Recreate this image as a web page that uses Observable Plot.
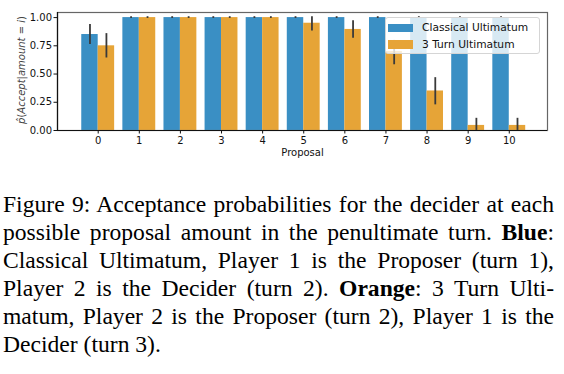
<!DOCTYPE html>
<html>
<head>
<meta charset="utf-8">
<script src="https://cdn.jsdelivr.net/npm/d3@7"></script>
<script src="https://cdn.jsdelivr.net/npm/@observablehq/plot@0.6"></script>
<style>
  body { margin: 0; background: #fff; width: 564px; height: 374px; position: relative; overflow: hidden; }
  #chart { position: absolute; left: 0; top: 0; }
  #ylabel { position: absolute; left: 22px; top: 70px; transform: translate(-50%, -50%) rotate(-90deg);
    font-family: "DejaVu Sans", sans-serif; font-size: 10px; line-height: 12px; color: #444; white-space: nowrap; }
  #ylabel i { font-style: italic; }
  #legend { position: absolute; left: 385px; top: 17px; width: 155px; height: 37px; box-sizing: border-box;
    border: 1px solid #d5d5d5; border-radius: 3px; background: rgba(255,255,255,0.8);
    font-family: "DejaVu Sans", sans-serif; font-size: 10.7px; color: #111; }
  .row { position: absolute; left: 2px; height: 12px; line-height: 12px; white-space: nowrap; }
  .sw { display: inline-block; width: 25px; height: 8.5px; vertical-align: middle; margin-right: 9px; }
  #caption { position: absolute; left: 3px; top: 190px; width: 551px;
    font-family: "Liberation Serif", "Times New Roman", serif; font-size: 23.6px; line-height: 28px; color: #000; }
  #caption div { text-align: justify; text-align-last: justify; white-space: nowrap; }
  #caption div.last { text-align-last: left; }
</style>
</head>
<body>
<div id="chart"></div>
<div id="ylabel"><i>p̂</i>(<i>Accept</i>|<i>amount</i> = <i>i</i>)</div>
<div id="legend"></div>
<div id="caption">
  <div>Figure 9: Acceptance probabilities for the decider at each</div>
  <div>possible proposal amount in the penultimate turn. <b>Blue</b>:</div>
  <div>Classical Ultimatum, Player 1 is the Proposer (turn 1),</div>
  <div>Player 2 is the Decider (turn 2). <b>Orange</b>: 3 Turn Ulti-</div>
  <div>matum, Player 2 is the Proposer (turn 2), Player 1 is the</div>
  <div class="last">Decider (turn 3).</div>
</div>
<script>
const proposals   = [0, 1, 2, 3, 4, 5, 6, 7, 8, 9, 10];
const classical   = [0.85, 1, 1, 1, 1, 1, 1, 1, 1, 1, 1];
const classicalLo = [0.77, 1, 1, 1, 1, 1, 1, 1, 1, 1, 1];
const classicalHi = [0.93, 1, 1, 1, 1, 1, 1, 1, 1, 1, 1];
const threeTurn   = [0.75, 1, 1, 1, 1, 0.95, 0.895, 0.70, 0.35, 0.045, 0.045];
const threeLo     = [0.65, 1, 1, 1, 1, 0.89, 0.825, 0.59, 0.235, 0, 0];
const threeHi     = [0.85, 1, 1, 1, 1, 1.0, 0.965, 0.79, 0.46, 0.10, 0.10];
const seriesNames = ["Classical Ultimatum", "3 Turn Ultimatum"];
const colors      = ["#3A8FC4", "#E6A437"];
const yTicks      = [0, 0.25, 0.5, 0.75, 1.0];

const barW = 0.4;
const data = [];
proposals.forEach((p, i) => {
  data.push({p, s: 0, v: classical[i], lo: classicalLo[i], hi: classicalHi[i]});
  data.push({p, s: 1, v: threeTurn[i], lo: threeLo[i], hi: threeHi[i]});
});
const left = d => d.s === 0 ? d.p - barW : d.p;
const right = d => d.s === 0 ? d.p : d.p + barW;
const mid = d => d.s === 0 ? d.p - barW / 2 : d.p + barW / 2;

const chart = Plot.plot({
  width: 564,
  height: 165,
  marginLeft: 57,
  marginRight: 17,
  marginTop: 12,
  marginBottom: 35,
  style: { fontFamily: "DejaVu Sans, sans-serif", fontSize: "10px", color: "#111", background: "#fff" },
  x: { type: "linear", domain: [-0.99, 10.93] },
  y: { domain: [0, 1.045] },
  marks: [
    Plot.rect(data, { x1: left, x2: right, y1: 0, y2: "v", fill: d => colors[d.s] }),
    Plot.ruleX(data, { x: mid, y1: "lo", y2: "hi", stroke: "#3a3a3a", strokeWidth: 1.8, strokeLinecap: "square" }),
    Plot.frame({ stroke: "#666", strokeWidth: 1.2 }),
    Plot.axisX(proposals, { ticks: proposals, tickSize: 3.5, tickPadding: 3, tickFormat: d => String(d),
      label: "Proposal", labelAnchor: "center", labelArrow: "none", labelOffset: 25, fontSize: 10, stroke: "#111" }),
    Plot.axisY({ ticks: yTicks, tickSize: 3.5, tickPadding: 2, tickFormat: d3.format(".2f"), label: null, fontSize: 10, stroke: "#111" }),
    Plot.ruleY([0], { stroke: "#111", strokeWidth: 1.2 }),
    Plot.ruleX([-0.99], { stroke: "#111", strokeWidth: 1.2 })
  ]
});
document.getElementById("chart").appendChild(chart);

// legend
const leg = document.getElementById("legend");
seriesNames.forEach((n, i) => {
  const r = document.createElement("div");
  r.className = "row";
  r.style.top = (4 + i * 16.5) + "px";
  r.innerHTML = `<span class="sw" style="background:${colors[i]}"></span>${n}`;
  leg.appendChild(r);
});
</script>
</body>
</html>
